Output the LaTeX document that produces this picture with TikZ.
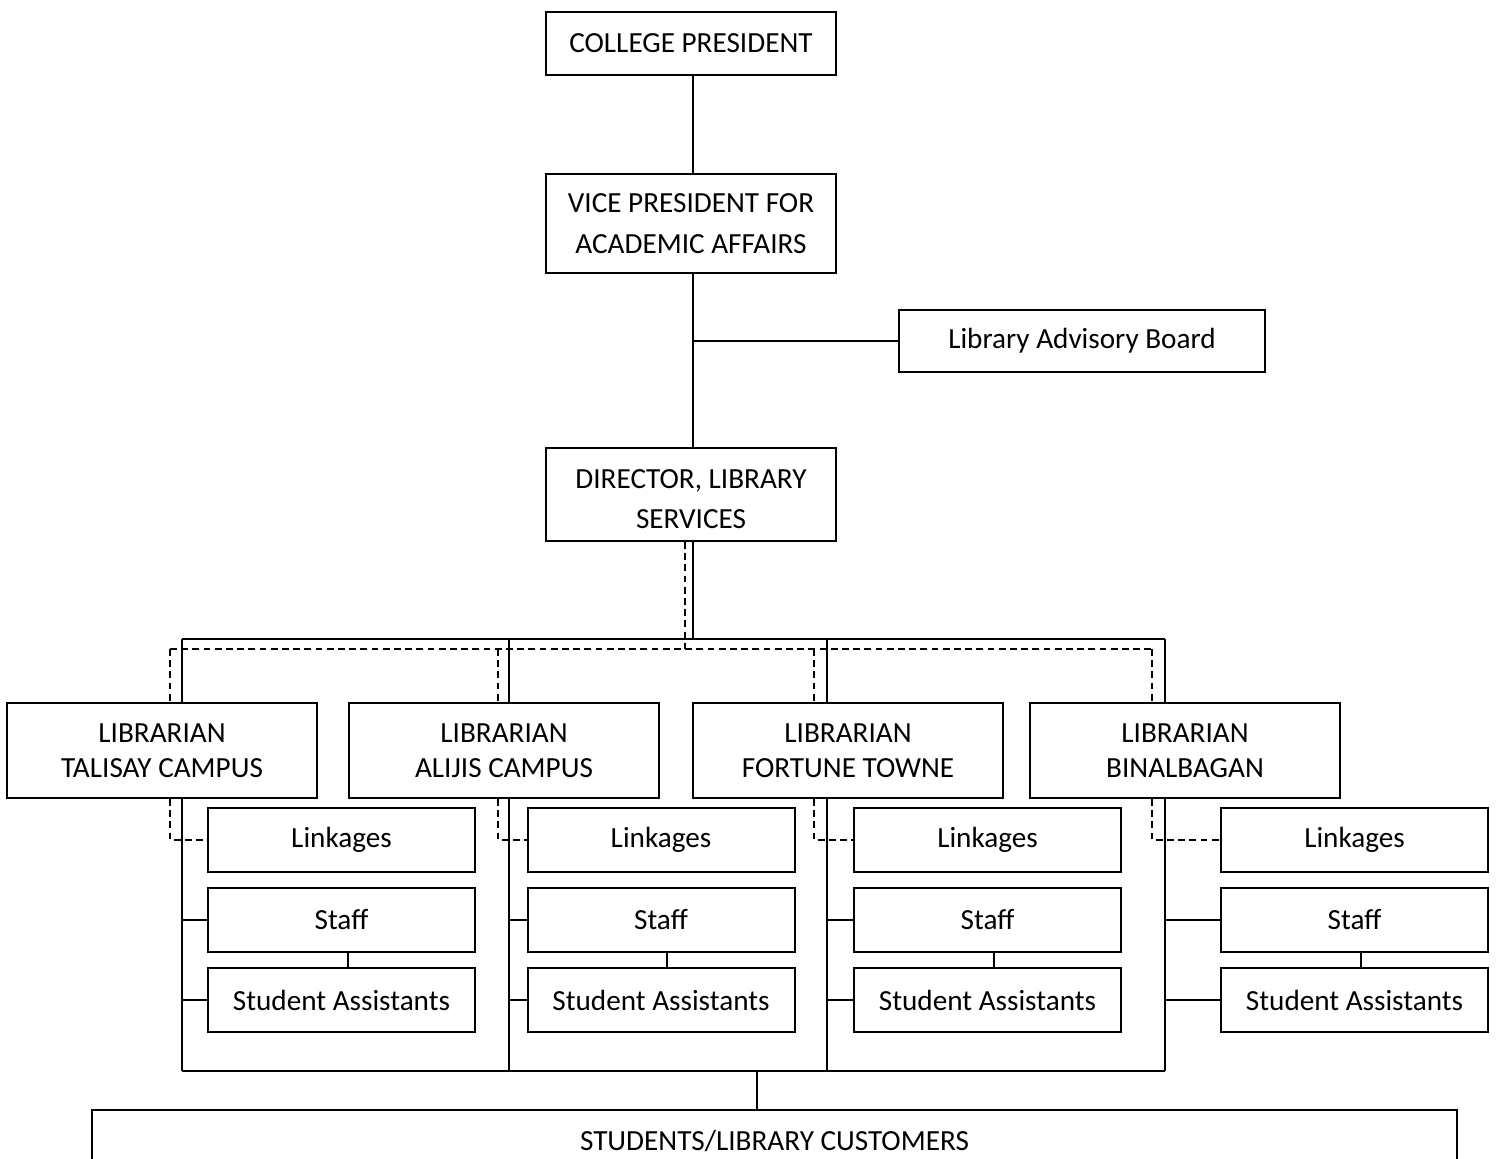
\documentclass[tikz,border=0pt]{standalone}
\usepackage{fontspec}
\setmainfont{Carlito}
\begin{document}
\begin{tikzpicture}[x=0.5pt,y=-0.5pt,
  box/.style={draw, line width=1pt, rectangle, inner sep=0pt, align=center,
    font=\fontsize{14.6}{20.5}\selectfont},
  libbox/.style={box, minimum width=155pt, minimum height=47.5pt,
    font=\fontsize{14.6}{17.5}\selectfont},
  subbox/.style={box, minimum width=133.5pt, minimum height=32pt},
  link/.style={line width=1pt},
  dashlink/.style={line width=1pt, dash pattern=on 3.4pt off 2.2pt}]
\useasboundingbox (0,0) rectangle (1497,1159);
\clip (0,0) rectangle (1497,1159);

% top of the hierarchy
\node[box, minimum width=145pt, minimum height=31.5pt] (cp) at (691,43.5) {COLLEGE PRESIDENT};
\node[box, minimum width=145pt, minimum height=49.5pt] (vp) at (691,223.5) {VICE PRESIDENT FOR\\ACADEMIC AFFAIRS};
\node[box, minimum width=183pt, minimum height=31pt] (lab) at (1082,341) {Library Advisory Board};
\node[box, minimum width=145pt, minimum height=46.5pt,
  font=\fontsize{14.6}{20}\selectfont] (dir) at (691,494.5) {\rule{0pt}{14.5pt}DIRECTOR, LIBRARY\\SERVICES};

% campus librarians
\node[libbox] (tal) at (162,750.5) {LIBRARIAN\\TALISAY CAMPUS};
\node[libbox] (ali) at (504,750.5) {LIBRARIAN\\ALIJIS CAMPUS};
\node[libbox] (for) at (848,750.5) {LIBRARIAN\\FORTUNE TOWNE};
\node[libbox] (bin) at (1185,750.5) {LIBRARIAN\\BINALBAGAN};

% units under each librarian
\foreach \i/\cx in {1/341.5, 2/661, 3/987.5, 4/1354.5} {
  \node[subbox] (lk\i) at (\cx,840) {Linkages};
  \node[subbox] (st\i) at (\cx,920) {Staff};
  \node[subbox] (sa\i) at (\cx,1000) {Student Assistants};
  \draw[link] ([xshift=3pt]st\i.south) -- ([xshift=3pt]sa\i.north);
}

% customers
\node[box, minimum width=682.5pt, minimum height=31pt] (cust) at (774.5,1141) {STUDENTS/LIBRARY CUSTOMERS};

% junction points of the solid and dashed buses
\coordinate (sA) at (182,639);
\coordinate (sB) at (509,639);
\coordinate (sC) at (827,639);
\coordinate (sD) at (1165,639);
\coordinate (dA) at (170,649);
\coordinate (dB) at (498,649);
\coordinate (dC) at (814,649);
\coordinate (dD) at (1152,649);
\coordinate (bA) at (182,1071);
\coordinate (bB) at (509,1071);
\coordinate (bC) at (827,1071);
\coordinate (bD) at (1165,1071);
\coordinate (bM) at (757,1071);

% line of authority
\draw[link] ([xshift=1pt]cp.south) -- ([xshift=1pt]vp.north);
\draw[link] ([xshift=1pt]vp.south) -- ([xshift=1pt]dir.north);
\draw[link] (lab.west) -- ([xshift=1pt]vp.south |- lab.west);
\draw[link] ([xshift=1pt]dir.south) -- ([xshift=1pt]dir.south |- sA);
\draw[link] (sA) -- (sD);
\draw[link] (sA) -- (sA |- tal.north);
\draw[link] (sB) -- (sB |- ali.north);
\draw[link] (sC) -- (sC |- for.north);
\draw[link] (sD) -- (sD |- bin.north);
\draw[link] (sA |- tal.south) -- (bA);
\draw[link] (sB |- ali.south) -- (bB);
\draw[link] (sC |- for.south) -- (bC);
\draw[link] (sD |- bin.south) -- (bD);
\draw[link] (bA) -- (bD);
\draw[link] (bM) -- (bM |- cust.north);

% staff and student assistants
\draw[link] (sA |- st1.west) -- (st1.west);
\draw[link] (sA |- sa1.west) -- (sa1.west);
\draw[link] (sB |- st2.west) -- (st2.west);
\draw[link] (sB |- sa2.west) -- (sa2.west);
\draw[link] (sC |- st3.west) -- (st3.west);
\draw[link] (sC |- sa3.west) -- (sa3.west);
\draw[link] (sD |- st4.west) -- (st4.west);
\draw[link] (sD |- sa4.west) -- (sa4.west);

% coordination lines
\draw[dashlink] ([xshift=-3pt]dir.south) -- ([xshift=-3pt]dir.south |- dA);
\draw[dashlink] (dA) -- (dD);
\draw[dashlink] (dA) -- (dA |- tal.north);
\draw[dashlink] (dB) -- (dB |- ali.north);
\draw[dashlink] (dC) -- (dC |- for.north);
\draw[dashlink] (dD) -- (dD |- bin.north);
\draw[dashlink] (dA |- tal.south) -- (dA |- lk1.west) -- (lk1.west);
\draw[dashlink] (dB |- ali.south) -- (dB |- lk2.west) -- (lk2.west);
\draw[dashlink] (dC |- for.south) -- (dC |- lk3.west) -- (lk3.west);
\draw[dashlink] (dD |- bin.south) -- (dD |- lk4.west) -- (lk4.west);
\end{tikzpicture}
\end{document}
